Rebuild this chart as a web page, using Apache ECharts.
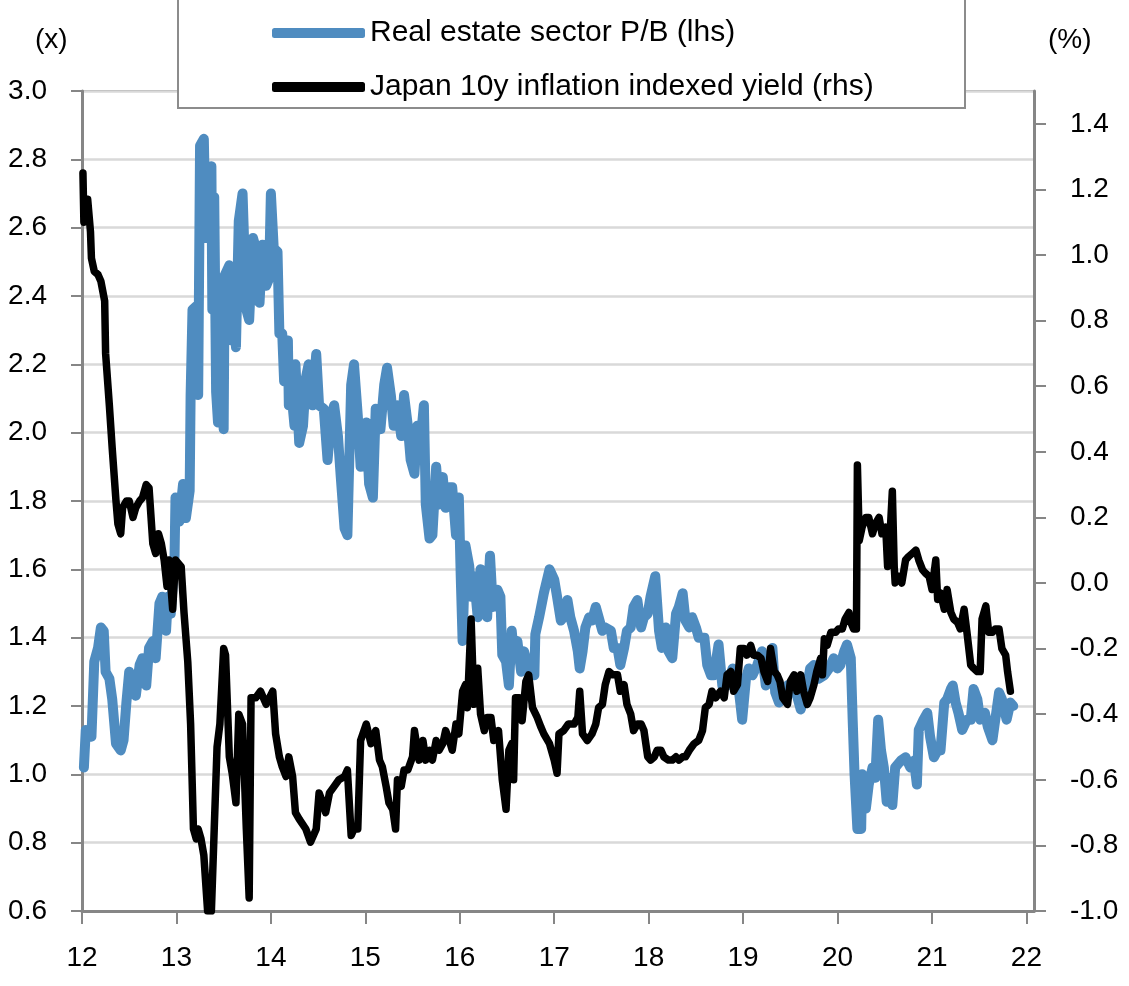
<!DOCTYPE html>
<html lang="en">
<head>
<meta charset="UTF-8">
<title>Real estate P/B vs Japan 10y inflation indexed yield</title>
<script src="https://cdn.jsdelivr.net/npm/echarts@6.0.0/dist/echarts.min.js"></script>
<style>
  html, body { margin: 0; padding: 0; background: #fff; }
  #chart { width: 1129px; height: 986px; }
</style>
</head>
<body>
<div id="chart"></div>
<script>
// x = decimal year (12 = 2012)
var pbData = [ // Real estate sector P/B (lhs)
  [12.02,1.02],[12.04,1.13],[12.10,1.11],[12.13,1.33],[12.17,1.37],[12.20,1.43],[12.23,1.42],[12.25,1.30],[12.29,1.28],[12.32,1.22],
  [12.36,1.09],[12.41,1.07],[12.44,1.10],[12.47,1.21],[12.50,1.30],[12.54,1.24],[12.57,1.23],[12.61,1.32],[12.64,1.34],[12.68,1.26],
  [12.71,1.37],[12.75,1.39],[12.78,1.34],[12.82,1.50],[12.85,1.52],[12.89,1.42],[12.91,1.52],[12.94,1.47],[12.98,1.64],[12.99,1.81],
  [13.03,1.74],[13.07,1.85],[13.10,1.75],[13.14,1.83],[13.15,2.11],[13.17,2.36],[13.21,2.37],[13.23,2.11],[13.25,2.84],[13.29,2.86],
  [13.31,2.57],[13.33,2.77],[13.37,2.78],[13.38,2.36],[13.40,2.69],[13.42,2.12],[13.44,2.03],[13.47,2.36],[13.50,2.01],[13.51,2.46],
  [13.56,2.49],[13.58,2.27],[13.61,2.42],[13.63,2.25],[13.66,2.62],[13.70,2.70],[13.74,2.36],[13.77,2.33],[13.81,2.57],[13.84,2.54],
  [13.88,2.38],[13.91,2.55],[13.95,2.43],[13.98,2.45],[14.00,2.70],[14.03,2.54],[14.07,2.53],[14.09,2.29],[14.12,2.29],[14.14,2.15],
  [14.18,2.27],[14.19,2.08],[14.21,2.14],[14.25,2.02],[14.26,2.20],[14.30,1.97],[14.34,2.02],[14.37,2.16],[14.40,2.20],[14.44,2.08],
  [14.48,2.23],[14.51,2.08],[14.56,2.07],[14.60,1.92],[14.64,2.05],[14.67,2.08],[14.71,1.99],[14.74,1.87],[14.78,1.72],[14.81,1.70],
  [14.85,2.14],[14.88,2.20],[14.92,2.05],[14.95,1.90],[15.01,2.03],[15.04,1.85],[15.08,1.81],[15.11,2.07],[15.16,2.01],[15.20,2.14],
  [15.23,2.19],[15.27,2.11],[15.30,2.02],[15.34,2.08],[15.38,1.99],[15.41,2.11],[15.45,2.02],[15.48,1.92],[15.52,1.88],[15.55,2.02],
  [15.59,1.99],[15.62,2.08],[15.64,1.79],[15.68,1.69],[15.71,1.70],[15.75,1.90],[15.78,1.79],[15.82,1.87],[15.85,1.78],[15.89,1.84],
  [15.92,1.84],[15.96,1.70],[15.99,1.81],[16.01,1.58],[16.03,1.39],[16.06,1.67],[16.10,1.61],[16.12,1.52],[16.15,1.58],[16.19,1.46],
  [16.22,1.60],[16.26,1.48],[16.29,1.46],[16.32,1.64],[16.35,1.49],[16.40,1.54],[16.43,1.52],[16.45,1.35],[16.49,1.33],[16.52,1.26],
  [16.55,1.42],[16.57,1.36],[16.61,1.39],[16.65,1.30],[16.68,1.36],[16.72,1.32],[16.75,1.30],[16.79,1.29],[16.80,1.41],[16.84,1.46],
  [16.89,1.53],[16.95,1.60],[17.00,1.57],[17.03,1.52],[17.07,1.45],[17.10,1.46],[17.14,1.51],[17.17,1.46],[17.21,1.42],[17.25,1.36],
  [17.27,1.31],[17.30,1.36],[17.33,1.43],[17.37,1.46],[17.40,1.45],[17.44,1.49],[17.47,1.46],[17.51,1.42],[17.54,1.43],[17.60,1.42],
  [17.63,1.37],[17.67,1.37],[17.70,1.32],[17.74,1.37],[17.77,1.42],[17.81,1.43],[17.84,1.49],[17.88,1.51],[17.92,1.43],[17.95,1.46],
  [17.99,1.47],[18.02,1.52],[18.07,1.58],[18.11,1.42],[18.14,1.37],[18.18,1.43],[18.21,1.36],[18.25,1.34],[18.29,1.47],[18.32,1.49],
  [18.36,1.53],[18.39,1.45],[18.43,1.43],[18.46,1.46],[18.50,1.43],[18.53,1.40],[18.59,1.40],[18.62,1.32],[18.66,1.29],[18.69,1.29],
  [18.74,1.38],[18.78,1.26],[18.83,1.26],[18.89,1.31],[18.94,1.28],[18.97,1.21],[18.99,1.16],[19.03,1.28],[19.06,1.31],[19.10,1.29],
  [19.15,1.32],[19.20,1.36],[19.24,1.26],[19.27,1.29],[19.31,1.37],[19.34,1.24],[19.38,1.21],[19.41,1.24],[19.47,1.26],[19.52,1.25],
  [19.57,1.23],[19.61,1.19],[19.64,1.22],[19.68,1.26],[19.71,1.31],[19.75,1.32],[19.80,1.28],[19.86,1.29],[19.91,1.31],[19.96,1.34],
  [20.00,1.31],[20.03,1.32],[20.07,1.36],[20.10,1.38],[20.14,1.34],[20.16,1.16],[20.18,1.00],[20.21,0.84],[20.25,0.84],[20.26,1.00],
  [20.30,0.90],[20.33,0.97],[20.37,1.02],[20.40,0.99],[20.43,1.16],[20.46,1.07],[20.49,1.02],[20.52,0.92],[20.54,0.99],[20.58,0.91],
  [20.61,1.02],[20.67,1.04],[20.72,1.05],[20.77,1.02],[20.81,1.04],[20.84,0.97],[20.86,1.13],[20.91,1.16],[20.95,1.18],[20.98,1.11],
  [21.02,1.05],[21.06,1.07],[21.09,1.07],[21.13,1.21],[21.16,1.22],[21.20,1.25],[21.22,1.26],[21.25,1.21],[21.28,1.18],[21.32,1.13],
  [21.37,1.16],[21.41,1.16],[21.44,1.25],[21.48,1.22],[21.51,1.16],[21.56,1.18],[21.59,1.14],[21.64,1.10],[21.67,1.16],[21.71,1.24],
  [21.74,1.22],[21.79,1.16],[21.83,1.21],[21.86,1.20]
];

var yieldData = [ // Japan 10y inflation indexed yield (rhs), %
  [12.01,1.25],[12.02,1.10],[12.06,1.17],[12.09,1.07],[12.10,0.99],[12.13,0.95],[12.17,0.94],[12.20,0.92],[12.24,0.86],[12.25,0.70],
  [12.29,0.54],[12.32,0.41],[12.36,0.25],[12.38,0.18],[12.41,0.15],[12.43,0.23],[12.47,0.25],[12.50,0.25],[12.54,0.20],[12.57,0.23],
  [12.61,0.25],[12.64,0.26],[12.68,0.30],[12.71,0.29],[12.75,0.12],[12.78,0.09],[12.81,0.15],[12.84,0.12],[12.87,0.07],[12.90,-0.01],
  [12.92,0.07],[12.96,-0.08],[12.99,0.07],[13.05,0.05],[13.08,-0.09],[13.12,-0.24],[13.15,-0.43],[13.18,-0.75],[13.21,-0.78],[13.23,-0.75],
  [13.26,-0.78],[13.29,-0.83],[13.33,-1.00],[13.37,-1.00],[13.40,-0.75],[13.43,-0.50],[13.46,-0.43],[13.50,-0.20],[13.52,-0.22],[13.56,-0.53],
  [13.59,-0.58],[13.63,-0.67],[13.66,-0.40],[13.70,-0.43],[13.74,-0.75],[13.77,-0.96],[13.79,-0.35],[13.84,-0.35],[13.89,-0.33],[13.95,-0.37],
  [14.02,-0.33],[14.05,-0.46],[14.09,-0.53],[14.12,-0.56],[14.16,-0.59],[14.19,-0.53],[14.23,-0.59],[14.26,-0.70],[14.30,-0.72],[14.37,-0.75],
  [14.42,-0.79],[14.48,-0.75],[14.51,-0.64],[14.55,-0.67],[14.58,-0.70],[14.62,-0.64],[14.67,-0.62],[14.72,-0.60],[14.78,-0.59],[14.81,-0.57],
  [14.85,-0.77],[14.88,-0.75],[14.92,-0.75],[14.95,-0.48],[15.01,-0.43],[15.06,-0.49],[15.11,-0.45],[15.15,-0.54],[15.18,-0.56],[15.22,-0.62],
  [15.25,-0.67],[15.29,-0.69],[15.32,-0.75],[15.34,-0.60],[15.38,-0.62],[15.41,-0.57],[15.45,-0.57],[15.50,-0.53],[15.52,-0.45],[15.57,-0.54],
  [15.61,-0.48],[15.64,-0.54],[15.68,-0.51],[15.71,-0.54],[15.75,-0.48],[15.78,-0.51],[15.82,-0.49],[15.85,-0.45],[15.89,-0.48],[15.92,-0.51],
  [15.96,-0.43],[15.99,-0.46],[16.03,-0.33],[16.06,-0.31],[16.08,-0.38],[16.12,-0.11],[16.15,-0.37],[16.19,-0.26],[16.22,-0.40],[16.26,-0.45],
  [16.29,-0.41],[16.33,-0.41],[16.36,-0.48],[16.41,-0.45],[16.45,-0.60],[16.49,-0.69],[16.52,-0.51],[16.55,-0.49],[16.57,-0.60],[16.59,-0.35],
  [16.63,-0.35],[16.66,-0.42],[16.70,-0.30],[16.73,-0.28],[16.77,-0.38],[16.82,-0.41],[16.86,-0.44],[16.89,-0.46],[16.95,-0.49],[17.00,-0.54],
  [17.03,-0.58],[17.05,-0.46],[17.10,-0.45],[17.15,-0.43],[17.21,-0.43],[17.25,-0.41],[17.27,-0.33],[17.30,-0.46],[17.35,-0.48],[17.40,-0.46],
  [17.44,-0.43],[17.47,-0.38],[17.51,-0.37],[17.54,-0.31],[17.58,-0.27],[17.62,-0.28],[17.67,-0.28],[17.70,-0.33],[17.74,-0.31],[17.77,-0.37],
  [17.81,-0.40],[17.84,-0.45],[17.88,-0.43],[17.92,-0.43],[17.95,-0.45],[17.99,-0.53],[18.02,-0.54],[18.06,-0.53],[18.09,-0.51],[18.13,-0.51],
  [18.16,-0.53],[18.21,-0.54],[18.25,-0.54],[18.29,-0.53],[18.32,-0.54],[18.36,-0.53],[18.39,-0.53],[18.43,-0.51],[18.48,-0.49],[18.53,-0.48],
  [18.57,-0.45],[18.60,-0.38],[18.64,-0.37],[18.67,-0.33],[18.71,-0.35],[18.76,-0.33],[18.80,-0.35],[18.83,-0.28],[18.87,-0.27],[18.90,-0.33],
  [18.94,-0.31],[18.97,-0.20],[19.01,-0.20],[19.04,-0.22],[19.08,-0.19],[19.11,-0.22],[19.15,-0.22],[19.19,-0.23],[19.22,-0.27],[19.26,-0.30],
  [19.29,-0.20],[19.33,-0.27],[19.36,-0.28],[19.39,-0.30],[19.42,-0.35],[19.47,-0.37],[19.50,-0.30],[19.54,-0.28],[19.57,-0.33],[19.61,-0.28],
  [19.64,-0.33],[19.68,-0.37],[19.71,-0.35],[19.75,-0.31],[19.78,-0.27],[19.82,-0.23],[19.84,-0.28],[19.86,-0.17],[19.89,-0.19],[19.93,-0.15],
  [19.98,-0.15],[20.01,-0.14],[20.05,-0.14],[20.08,-0.11],[20.12,-0.09],[20.14,-0.12],[20.17,-0.14],[20.20,-0.14],[20.21,0.36],[20.23,0.13],
  [20.26,0.17],[20.30,0.20],[20.33,0.20],[20.37,0.15],[20.40,0.18],[20.44,0.20],[20.47,0.15],[20.51,0.17],[20.53,0.05],[20.56,0.17],
  [20.58,0.28],[20.60,0.05],[20.61,0.00],[20.65,0.02],[20.68,0.00],[20.72,0.07],[20.75,0.08],[20.79,0.09],[20.83,0.10],[20.86,0.07],
  [20.90,0.04],[20.93,0.03],[20.97,0.02],[21.00,-0.02],[21.04,0.07],[21.06,-0.05],[21.09,-0.03],[21.13,-0.08],[21.16,-0.02],[21.20,-0.09],
  [21.23,-0.11],[21.27,-0.12],[21.30,-0.14],[21.34,-0.08],[21.37,-0.15],[21.41,-0.25],[21.44,-0.26],[21.48,-0.27],[21.51,-0.27],[21.53,-0.11],
  [21.57,-0.07],[21.60,-0.15],[21.64,-0.15],[21.67,-0.14],[21.71,-0.14],[21.74,-0.20],[21.78,-0.22],[21.80,-0.27],[21.83,-0.33]
];

var yearTicks = [12, 13, 14, 15, 16, 17, 18, 19, 20, 21, 22];
var rhsTicks = [-1.0, -0.8, -0.6, -0.4, -0.2, 0.0, 0.2, 0.4, 0.6, 0.8, 1.0, 1.2, 1.4];

var FONT = "'Liberation Sans', Arial, sans-serif";
var AXIS_GRAY = '#868686';

var chart = echarts.init(document.getElementById('chart'), null, { renderer: 'canvas' });

var option = {
  animation: false,
  backgroundColor: '#ffffff',
  grid: {
    left: 82, right: 95, top: 91, bottom: 75,
    show: true, borderColor: AXIS_GRAY, borderWidth: 2,
    outerBoundsMode: 'none'
  },
  legend: {
    orient: 'vertical',
    left: 267, top: 11,
    icon: 'roundRect',
    itemWidth: 93, itemHeight: 10,
    itemGap: 20,
    textStyle: { fontFamily: FONT, fontSize: 30, color: '#000', lineHeight: 34 },
    data: ['Real estate sector P/B (lhs)', 'Japan 10y inflation indexed yield (rhs)']
  },
  graphic: [
    { type: 'rect', z: 3, shape: { x: 178, y: -20, width: 787, height: 128 },
      style: { fill: '#fff', stroke: '#8c8c8c', lineWidth: 2 } },
    { type: 'text', z: 5, left: 35, top: 26,
      style: { text: '(x)', font: '28px ' + FONT, fill: '#000' } },
    { type: 'text', z: 5, left: 1048, top: 26,
      style: { text: '(%)', font: '28px ' + FONT, fill: '#000' } }
  ],
  xAxis: {
    type: 'value',
    min: 12, max: 22.08,
    axisLine: { onZero: false, lineStyle: { color: AXIS_GRAY, width: 3 } },
    axisTick: { show: true, length: 13, customValues: yearTicks, lineStyle: { color: AXIS_GRAY, width: 2 } },
    axisLabel: {
      customValues: yearTicks, margin: 33,
      fontFamily: FONT, fontSize: 28, color: '#000',
      formatter: function (v) { return String(Math.round(v)); }
    },
    splitLine: { show: false }
  },
  yAxis: [
    {
      type: 'value', position: 'left',
      min: 0.6, max: 3.0, interval: 0.2,
      axisLine: { show: true, lineStyle: { color: AXIS_GRAY, width: 3 } },
      axisTick: { show: true, length: 11, lineStyle: { color: AXIS_GRAY, width: 2 } },
      axisLabel: {
        margin: 35, fontFamily: FONT, fontSize: 28, color: '#000',
        formatter: function (v) { return v.toFixed(1); }
      },
      splitLine: { show: true, lineStyle: { color: '#d9d9d9', width: 2.5 } }
    },
    {
      type: 'value', position: 'right',
      min: -1.0, max: 1.5,
      axisLine: { show: true, lineStyle: { color: AXIS_GRAY, width: 3 } },
      axisTick: { show: true, length: 12, customValues: rhsTicks, lineStyle: { color: AXIS_GRAY, width: 2 } },
      axisLabel: {
        customValues: rhsTicks, margin: 36,
        fontFamily: FONT, fontSize: 28, color: '#000',
        formatter: function (v) { return v.toFixed(1); }
      },
      splitLine: { show: false }
    }
  ],
  series: [
    {
      name: 'Real estate sector P/B (lhs)',
      type: 'line', yAxisIndex: 0,
      data: pbData,
      showSymbol: false, symbol: 'none',
      itemStyle: { color: '#4f8cc0' },
      lineStyle: { color: '#4f8cc0', width: 10, join: 'round', cap: 'round' },
      z: 2
    },
    {
      name: 'Japan 10y inflation indexed yield (rhs)',
      type: 'line', yAxisIndex: 1,
      data: yieldData,
      showSymbol: false, symbol: 'none',
      itemStyle: { color: '#000000' },
      lineStyle: { color: '#000000', width: 7.5, join: 'round', cap: 'round' },
      z: 3
    }
  ]
};

chart.setOption(option);
</script>
</body>
</html>
